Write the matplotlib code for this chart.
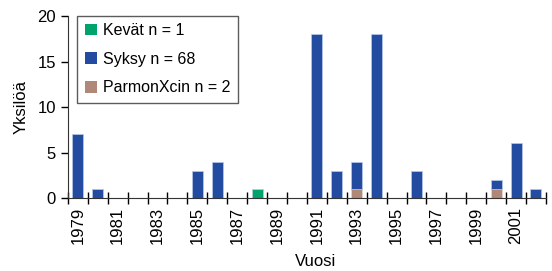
import matplotlib.pyplot as plt
import numpy as np
from matplotlib.patches import Patch

plt.rcParams['font.family'] = ['Liberation Sans', 'DejaVu Sans']

years = list(range(1979, 2003))
kevat = [0, 0, 0, 0, 0, 0, 0, 0, 0, 1, 0, 0, 0, 0, 0, 0, 0, 0, 0, 0, 0, 0, 0, 0]
parmon = [0, 0, 0, 0, 0, 0, 0, 0, 0, 0, 0, 0, 0, 0, 1, 0, 0, 0, 0, 0, 0, 1, 0, 0]
syksy = [7, 1, 0, 0, 0, 0, 3, 4, 0, 0, 0, 0, 18, 3, 3, 18, 0, 3, 0, 0, 0, 1, 6, 1]

c_kevat, c_syksy, c_parmon = "#00a36c", "#234ba0", "#b08878"

fig, ax = plt.subplots(figsize=(5.52, 2.71), dpi=100)
fig.subplots_adjust(left=0.123, right=0.989, bottom=0.269, top=0.941)

x = np.arange(len(years))
w = 0.55
ax.bar(x, kevat, w, color=c_kevat, edgecolor="#b8c8e8", linewidth=0.5)
ax.bar(x, parmon, w, color=c_parmon, edgecolor="#e8d8d0", linewidth=0.5)
ax.bar(x, syksy, w, bottom=np.array(parmon) + np.array(kevat), color=c_syksy,
       edgecolor="#b8c8e8", linewidth=0.5)

handles = [Patch(facecolor=c_kevat), Patch(facecolor=c_syksy), Patch(facecolor=c_parmon)]
leg = ax.legend(handles, ["Kevät n = 1", "Syksy n = 68", "ParmonXcin n = 2"],
                loc="upper left", bbox_to_anchor=(0.02, 1.0), fontsize=11.5,
                frameon=True, fancybox=False, handlelength=0.75, handleheight=0.75,
                handletextpad=0.4, borderpad=0.45, labelspacing=0.85, borderaxespad=0.0)
leg.get_frame().set_edgecolor("#333333")
leg.get_frame().set_linewidth(1.0)

ax.set_xlim(-0.5, len(years) - 0.5)
ax.set_ylim(0, 20)
ax.set_yticks([0, 5, 10, 15, 20])
ax.tick_params(axis="y", labelsize=12, direction="out", length=5, width=1)

ax.set_xticks(x[::2])
ax.set_xticklabels([str(y) for y in years[::2]], rotation=90, fontsize=12)
ax.set_xticks(np.arange(-0.5, len(years)), minor=True)
ax.tick_params(axis="x", which="major", length=0, pad=6)
ax.tick_params(axis="x", which="minor", direction="inout", length=8, width=1)

for s in ["top", "right"]:
    ax.spines[s].set_visible(False)
ax.spines["left"].set_color("#333333")
ax.spines["bottom"].set_color("#333333")

ax.set_ylabel("Yksilöä", fontsize=12, labelpad=6)
ax.set_xlabel("Vuosi", fontsize=12)
ax.xaxis.set_label_coords(0.518, -0.305)

plt.savefig("out.png", dpi=100)
